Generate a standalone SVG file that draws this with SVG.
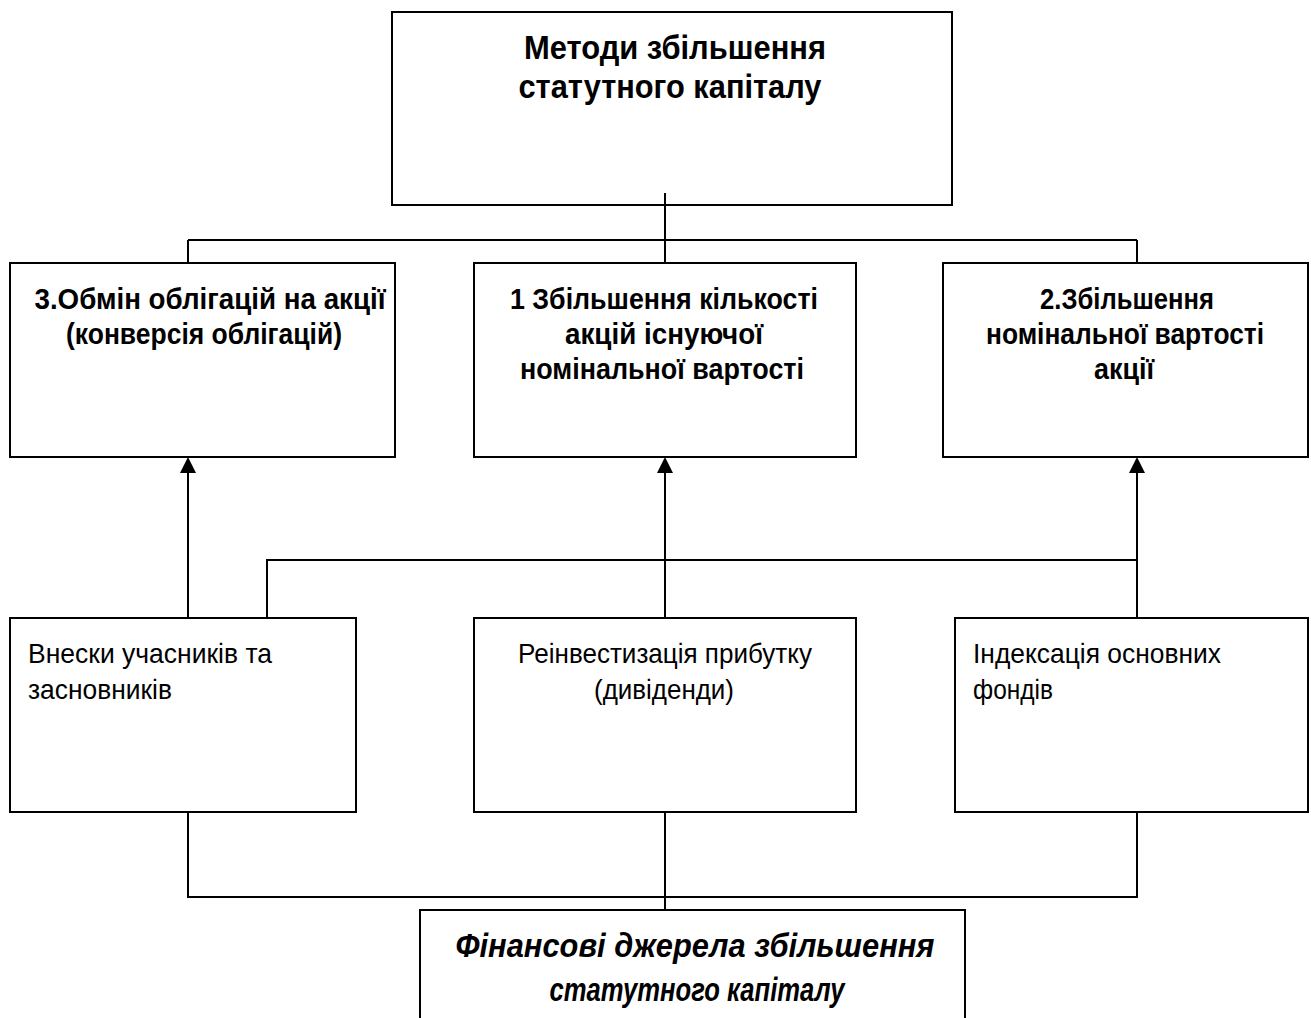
<svg xmlns="http://www.w3.org/2000/svg" width="1311" height="1018" viewBox="0 0 1311 1018">
<defs>
<style>
.box{fill:#fff;stroke:#000;stroke-width:2}
.ln{fill:none;stroke:#000;stroke-width:2}
.t{font-family:"Liberation Sans Narrow","Liberation Sans",Arial,sans-serif;fill:#000}
.h{font-size:33px;font-weight:bold;text-anchor:middle}
.b{font-size:29px;font-weight:bold;text-anchor:middle}
.r{font-size:28px}
.c{text-anchor:middle}
.i{font-size:33px;font-weight:bold;font-style:italic;text-anchor:middle}
.ah{fill:#000}
</style>
</defs>
<rect width="1311" height="1018" fill="#fff"/>
<g id="n-top">
<rect class="box" x="392" y="12" width="560" height="193"/>
<text class="t h" x="675" y="59" textLength="302" lengthAdjust="spacingAndGlyphs">Методи збільшення</text>
<text class="t h" x="670" y="98" textLength="303" lengthAdjust="spacingAndGlyphs">статутного капіталу</text>
</g>
<g id="n-m3">
<rect class="box" x="10" y="263" width="385" height="194"/>
<text class="t b" x="210" y="309" textLength="351" lengthAdjust="spacingAndGlyphs">3.Обмін облігацій на акції</text>
<text class="t b" x="204" y="344" textLength="276" lengthAdjust="spacingAndGlyphs">(конверсія облігацій)</text>
</g>
<g id="n-m1">
<rect class="box" x="474" y="263" width="382" height="194"/>
<text class="t b" x="664" y="309" textLength="308" lengthAdjust="spacingAndGlyphs">1 Збільшення кількості</text>
<text class="t b" x="664" y="344" textLength="198" lengthAdjust="spacingAndGlyphs">акцій існуючої</text>
<text class="t b" x="662" y="379" textLength="284" lengthAdjust="spacingAndGlyphs">номінальної вартості</text>
</g>
<g id="n-m2">
<rect class="box" x="943" y="263" width="365" height="194"/>
<text class="t b" x="1127" y="309" textLength="174" lengthAdjust="spacingAndGlyphs">2.Збільшення</text>
<text class="t b" x="1125" y="344" textLength="278" lengthAdjust="spacingAndGlyphs">номінальної вартості</text>
<text class="t b" x="1124" y="379" textLength="60" lengthAdjust="spacingAndGlyphs">акції</text>
</g>
<g id="n-s1">
<rect class="box" x="10" y="618" width="346" height="194"/>
<text class="t r" x="28" y="663" textLength="244" lengthAdjust="spacingAndGlyphs">Внески учасників та</text>
<text class="t r" x="28" y="699" textLength="144" lengthAdjust="spacingAndGlyphs">засновників</text>
</g>
<g id="n-s2">
<rect class="box" x="474" y="618" width="382" height="194"/>
<text class="t r c" x="665" y="663" textLength="294" lengthAdjust="spacingAndGlyphs">Реінвестизація прибутку</text>
<text class="t r c" x="664" y="699" textLength="140" lengthAdjust="spacingAndGlyphs">(дивіденди)</text>
</g>
<g id="n-s3">
<rect class="box" x="955" y="618" width="353" height="194"/>
<text class="t r" x="973" y="663" textLength="248" lengthAdjust="spacingAndGlyphs">Індексація основних</text>
<text class="t r" x="973" y="699" textLength="80" lengthAdjust="spacingAndGlyphs">фондів</text>
</g>
<g id="n-bottom">
<rect class="box" x="420" y="910" width="545" height="120"/>
<text class="t i" x="695" y="957" textLength="479" lengthAdjust="spacingAndGlyphs">Фінансові джерела збільшення</text>
<text class="t i" x="697" y="1001" textLength="295" lengthAdjust="spacingAndGlyphs">статутного капіталу</text>
</g>
<g id="connectors">
<path class="ln" d="M665,193 V263"/>
<path class="ln" d="M188,240 H1137"/>
<path class="ln" d="M188,240 V263"/>
<path class="ln" d="M1137,240 V263"/>
<path class="ln" d="M188,618 V472"/>
<polygon class="ah" points="188,457 180,473 196,473"/>
<path class="ln" d="M665,618 V472"/>
<polygon class="ah" points="665,457 657,473 673,473"/>
<path class="ln" d="M1137,618 V472"/>
<polygon class="ah" points="1137,457 1129,473 1145,473"/>
<path class="ln" d="M267,618 V560 H1137"/>
<path class="ln" d="M188,812 V897 H1137 V812"/>
<path class="ln" d="M665,812 V910"/>
</g>
</svg>
